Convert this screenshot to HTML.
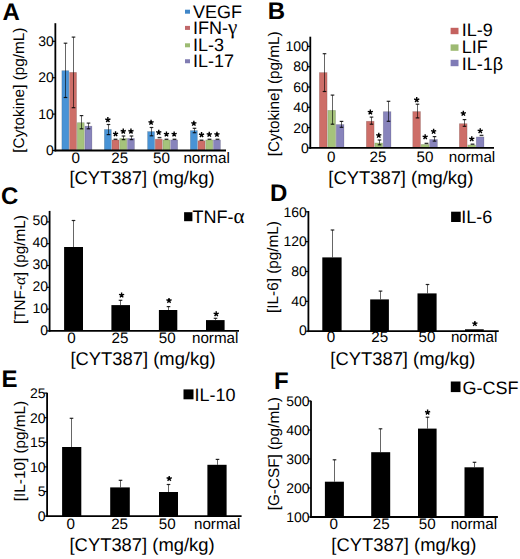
<!DOCTYPE html>
<html><head><meta charset="utf-8"><style>
html,body{margin:0;padding:0;background:#fff;width:520px;height:559px;overflow:hidden}
svg{display:block;font-family:"Liberation Sans", sans-serif;text-rendering:geometricPrecision}
</style></head><body>
<svg width="520" height="559" viewBox="0 0 520 559">
<rect width="520" height="559" fill="#fff"/>
<rect x="61.85" y="70.65" width="7.00" height="79.50" fill="#4893d6" stroke="#000" stroke-opacity="0.18" stroke-width="0.7"/>
<path d="M65.50 43.20V97.50" stroke="#000" stroke-opacity="0.6" stroke-width="1"/>
<path d="M63.70 43.20H67.30" stroke="#000" stroke-opacity="0.85" stroke-width="1.2"/>
<path d="M63.70 97.50H67.30" stroke="#000" stroke-opacity="0.85" stroke-width="1.2"/>
<rect x="69.55" y="72.35" width="7.00" height="77.80" fill="#cd6e68" stroke="#000" stroke-opacity="0.18" stroke-width="0.7"/>
<path d="M73.50 37.10V107.70" stroke="#000" stroke-opacity="0.6" stroke-width="1"/>
<path d="M71.70 37.10H75.30" stroke="#000" stroke-opacity="0.85" stroke-width="1.2"/>
<path d="M71.70 107.70H75.30" stroke="#000" stroke-opacity="0.85" stroke-width="1.2"/>
<rect x="77.25" y="122.65" width="7.00" height="27.50" fill="#a5c37b" stroke="#000" stroke-opacity="0.18" stroke-width="0.7"/>
<path d="M81.50 115.60V128.80" stroke="#000" stroke-opacity="0.6" stroke-width="1"/>
<path d="M79.70 115.60H83.30" stroke="#000" stroke-opacity="0.85" stroke-width="1.2"/>
<path d="M79.70 128.80H83.30" stroke="#000" stroke-opacity="0.85" stroke-width="1.2"/>
<rect x="84.95" y="126.15" width="7.00" height="24.00" fill="#8884bc" stroke="#000" stroke-opacity="0.18" stroke-width="0.7"/>
<path d="M88.50 123.10V128.80" stroke="#000" stroke-opacity="0.6" stroke-width="1"/>
<path d="M86.70 123.10H90.30" stroke="#000" stroke-opacity="0.85" stroke-width="1.2"/>
<path d="M86.70 128.80H90.30" stroke="#000" stroke-opacity="0.85" stroke-width="1.2"/>
<rect x="104.35" y="129.45" width="7.00" height="20.70" fill="#4893d6" stroke="#000" stroke-opacity="0.18" stroke-width="0.7"/>
<path d="M108.50 124.50V134.60" stroke="#000" stroke-opacity="0.6" stroke-width="1"/>
<path d="M106.70 124.50H110.30" stroke="#000" stroke-opacity="0.85" stroke-width="1.2"/>
<path d="M106.70 134.60H110.30" stroke="#000" stroke-opacity="0.85" stroke-width="1.2"/>
<path d="M107.85 119.80L107.85 117.10M107.85 119.80L110.42 118.97M107.85 119.80L109.44 121.98M107.85 119.80L106.26 121.98M107.85 119.80L105.28 118.97" stroke="#000" stroke-width="1.40" fill="none"/>
<rect x="112.05" y="139.95" width="7.00" height="10.20" fill="#cd6e68" stroke="#000" stroke-opacity="0.18" stroke-width="0.7"/>
<path d="M113.60 139.30H117.40" stroke="#000" stroke-opacity="0.8" stroke-width="1.4"/>
<path d="M115.55 134.00L115.55 131.30M115.55 134.00L118.12 133.17M115.55 134.00L117.14 136.18M115.55 134.00L113.96 136.18M115.55 134.00L112.98 133.17" stroke="#000" stroke-width="1.40" fill="none"/>
<rect x="119.75" y="138.45" width="7.00" height="11.70" fill="#a5c37b" stroke="#000" stroke-opacity="0.18" stroke-width="0.7"/>
<path d="M123.50 136.00V139.60" stroke="#000" stroke-opacity="0.6" stroke-width="1"/>
<path d="M121.70 136.00H125.30" stroke="#000" stroke-opacity="0.85" stroke-width="1.2"/>
<path d="M121.70 139.60H125.30" stroke="#000" stroke-opacity="0.85" stroke-width="1.2"/>
<path d="M123.25 131.30L123.25 128.60M123.25 131.30L125.82 130.47M123.25 131.30L124.84 133.48M123.25 131.30L121.66 133.48M123.25 131.30L120.68 130.47" stroke="#000" stroke-width="1.40" fill="none"/>
<rect x="127.45" y="138.45" width="7.00" height="11.70" fill="#8884bc" stroke="#000" stroke-opacity="0.18" stroke-width="0.7"/>
<path d="M131.50 136.00V139.60" stroke="#000" stroke-opacity="0.6" stroke-width="1"/>
<path d="M129.70 136.00H133.30" stroke="#000" stroke-opacity="0.85" stroke-width="1.2"/>
<path d="M129.70 139.60H133.30" stroke="#000" stroke-opacity="0.85" stroke-width="1.2"/>
<path d="M130.95 131.30L130.95 128.60M130.95 131.30L133.52 130.47M130.95 131.30L132.54 133.48M130.95 131.30L129.36 133.48M130.95 131.30L128.38 130.47" stroke="#000" stroke-width="1.40" fill="none"/>
<rect x="147.55" y="131.55" width="7.00" height="18.60" fill="#4893d6" stroke="#000" stroke-opacity="0.18" stroke-width="0.7"/>
<path d="M151.50 127.50V135.80" stroke="#000" stroke-opacity="0.6" stroke-width="1"/>
<path d="M149.70 127.50H153.30" stroke="#000" stroke-opacity="0.85" stroke-width="1.2"/>
<path d="M149.70 135.80H153.30" stroke="#000" stroke-opacity="0.85" stroke-width="1.2"/>
<path d="M151.05 122.50L151.05 119.80M151.05 122.50L153.62 121.67M151.05 122.50L152.64 124.68M151.05 122.50L149.46 124.68M151.05 122.50L148.48 121.67" stroke="#000" stroke-width="1.40" fill="none"/>
<rect x="155.25" y="139.15" width="7.00" height="11.00" fill="#cd6e68" stroke="#000" stroke-opacity="0.18" stroke-width="0.7"/>
<path d="M157.60 137.60H161.40" stroke="#000" stroke-opacity="0.8" stroke-width="1.4"/>
<path d="M158.75 132.50L158.75 129.80M158.75 132.50L161.32 131.67M158.75 132.50L160.34 134.68M158.75 132.50L157.16 134.68M158.75 132.50L156.18 131.67" stroke="#000" stroke-width="1.40" fill="none"/>
<rect x="162.95" y="139.95" width="7.00" height="10.20" fill="#a5c37b" stroke="#000" stroke-opacity="0.18" stroke-width="0.7"/>
<path d="M164.60 139.30H168.40" stroke="#000" stroke-opacity="0.8" stroke-width="1.4"/>
<path d="M166.45 134.20L166.45 131.50M166.45 134.20L169.02 133.37M166.45 134.20L168.04 136.38M166.45 134.20L164.86 136.38M166.45 134.20L163.88 133.37" stroke="#000" stroke-width="1.40" fill="none"/>
<rect x="170.65" y="139.95" width="7.00" height="10.20" fill="#8884bc" stroke="#000" stroke-opacity="0.18" stroke-width="0.7"/>
<path d="M172.60 139.30H176.40" stroke="#000" stroke-opacity="0.8" stroke-width="1.4"/>
<path d="M174.15 134.20L174.15 131.50M174.15 134.20L176.72 133.37M174.15 134.20L175.74 136.38M174.15 134.20L172.56 136.38M174.15 134.20L171.58 133.37" stroke="#000" stroke-width="1.40" fill="none"/>
<rect x="190.35" y="130.55" width="7.00" height="19.60" fill="#4893d6" stroke="#000" stroke-opacity="0.18" stroke-width="0.7"/>
<path d="M194.50 128.30V132.70" stroke="#000" stroke-opacity="0.6" stroke-width="1"/>
<path d="M192.70 128.30H196.30" stroke="#000" stroke-opacity="0.85" stroke-width="1.2"/>
<path d="M192.70 132.70H196.30" stroke="#000" stroke-opacity="0.85" stroke-width="1.2"/>
<path d="M193.85 123.50L193.85 120.80M193.85 123.50L196.42 122.67M193.85 123.50L195.44 125.68M193.85 123.50L192.26 125.68M193.85 123.50L191.28 122.67" stroke="#000" stroke-width="1.40" fill="none"/>
<rect x="198.05" y="140.75" width="7.00" height="9.40" fill="#cd6e68" stroke="#000" stroke-opacity="0.18" stroke-width="0.7"/>
<path d="M199.60 140.20H203.40" stroke="#000" stroke-opacity="0.8" stroke-width="1.4"/>
<path d="M201.55 134.80L201.55 132.10M201.55 134.80L204.12 133.97M201.55 134.80L203.14 136.98M201.55 134.80L199.96 136.98M201.55 134.80L198.98 133.97" stroke="#000" stroke-width="1.40" fill="none"/>
<rect x="205.75" y="139.95" width="7.00" height="10.20" fill="#a5c37b" stroke="#000" stroke-opacity="0.18" stroke-width="0.7"/>
<path d="M207.60 139.30H211.40" stroke="#000" stroke-opacity="0.8" stroke-width="1.4"/>
<path d="M209.25 134.50L209.25 131.80M209.25 134.50L211.82 133.67M209.25 134.50L210.84 136.68M209.25 134.50L207.66 136.68M209.25 134.50L206.68 133.67" stroke="#000" stroke-width="1.40" fill="none"/>
<rect x="213.45" y="139.95" width="7.00" height="10.20" fill="#8884bc" stroke="#000" stroke-opacity="0.18" stroke-width="0.7"/>
<path d="M215.60 139.30H219.40" stroke="#000" stroke-opacity="0.8" stroke-width="1.4"/>
<path d="M216.95 134.50L216.95 131.80M216.95 134.50L219.52 133.67M216.95 134.50L218.54 136.68M216.95 134.50L215.36 136.68M216.95 134.50L214.38 133.67" stroke="#000" stroke-width="1.40" fill="none"/>
<path d="M52.35 150.50H55.35" stroke="#000" stroke-width="1.2"/>
<text x="53.85" y="155.30" font-size="14" text-anchor="end" font-weight="normal">0</text>
<path d="M52.35 114.10H55.35" stroke="#000" stroke-width="1.2"/>
<text x="53.85" y="118.80" font-size="14" text-anchor="end" font-weight="normal">10</text>
<path d="M52.35 77.70H55.35" stroke="#000" stroke-width="1.2"/>
<text x="53.85" y="82.30" font-size="14" text-anchor="end" font-weight="normal">20</text>
<path d="M52.35 41.30H55.35" stroke="#000" stroke-width="1.2"/>
<text x="53.85" y="45.80" font-size="14" text-anchor="end" font-weight="normal">30</text>
<path d="M55.35 23.20V151.40" stroke="#000" stroke-width="1.8"/>
<path d="M54.45 150.50H226.00" stroke="#000" stroke-width="1.8"/>
<text x="75.65" y="162.50" font-size="15.2" text-anchor="middle" font-weight="normal">0</text>
<text x="119.75" y="162.50" font-size="15.2" text-anchor="middle" font-weight="normal">25</text>
<text x="161.40" y="162.50" font-size="15.2" text-anchor="middle" font-weight="normal">50</text>
<text x="206.60" y="162.50" font-size="15.2" text-anchor="middle" font-weight="normal">normal</text>
<text x="69.40" y="184.10" font-size="18.4" text-anchor="start" font-weight="normal">[CYT387] (mg/kg)</text>
<text x="0" y="0" font-size="15.3" text-anchor="middle" transform="translate(24.30 90.15) rotate(-90)">[Cytokine] (pg/mL)</text>
<text x="2.60" y="19.50" font-size="24" text-anchor="start" font-weight="bold">A</text>
<rect x="319.35" y="72.55" width="7.75" height="75.00" fill="#cd6e68" stroke="#000" stroke-opacity="0.18" stroke-width="0.7"/>
<path d="M324.50 53.70V91.50" stroke="#000" stroke-opacity="0.6" stroke-width="1"/>
<path d="M322.70 53.70H326.30" stroke="#000" stroke-opacity="0.85" stroke-width="1.2"/>
<path d="M322.70 91.50H326.30" stroke="#000" stroke-opacity="0.85" stroke-width="1.2"/>
<rect x="327.80" y="110.35" width="7.75" height="37.20" fill="#a5c37b" stroke="#000" stroke-opacity="0.18" stroke-width="0.7"/>
<path d="M332.50 95.10V124.20" stroke="#000" stroke-opacity="0.6" stroke-width="1"/>
<path d="M330.70 95.10H334.30" stroke="#000" stroke-opacity="0.85" stroke-width="1.2"/>
<path d="M330.70 124.20H334.30" stroke="#000" stroke-opacity="0.85" stroke-width="1.2"/>
<rect x="336.25" y="124.55" width="7.75" height="23.00" fill="#8884bc" stroke="#000" stroke-opacity="0.18" stroke-width="0.7"/>
<path d="M341.50 121.40V127.30" stroke="#000" stroke-opacity="0.6" stroke-width="1"/>
<path d="M339.70 121.40H343.30" stroke="#000" stroke-opacity="0.85" stroke-width="1.2"/>
<path d="M339.70 127.30H343.30" stroke="#000" stroke-opacity="0.85" stroke-width="1.2"/>
<rect x="366.35" y="121.25" width="7.75" height="26.30" fill="#cd6e68" stroke="#000" stroke-opacity="0.18" stroke-width="0.7"/>
<path d="M371.50 117.10V124.20" stroke="#000" stroke-opacity="0.6" stroke-width="1"/>
<path d="M369.70 117.10H373.30" stroke="#000" stroke-opacity="0.85" stroke-width="1.2"/>
<path d="M369.70 124.20H373.30" stroke="#000" stroke-opacity="0.85" stroke-width="1.2"/>
<path d="M370.33 112.20L370.33 109.50M370.33 112.20L372.89 111.37M370.33 112.20L371.91 114.38M370.33 112.20L368.74 114.38M370.33 112.20L367.76 111.37" stroke="#000" stroke-width="1.40" fill="none"/>
<rect x="374.80" y="142.95" width="7.75" height="4.60" fill="#a5c37b" stroke="#000" stroke-opacity="0.18" stroke-width="0.7"/>
<path d="M379.50 140.00V144.80" stroke="#000" stroke-opacity="0.6" stroke-width="1"/>
<path d="M377.70 140.00H381.30" stroke="#000" stroke-opacity="0.85" stroke-width="1.2"/>
<path d="M377.70 144.80H381.30" stroke="#000" stroke-opacity="0.85" stroke-width="1.2"/>
<path d="M378.77 135.40L378.77 132.70M378.77 135.40L381.34 134.57M378.77 135.40L380.36 137.58M378.77 135.40L377.19 137.58M378.77 135.40L376.21 134.57" stroke="#000" stroke-width="1.40" fill="none"/>
<rect x="383.25" y="111.65" width="7.75" height="35.90" fill="#8884bc" stroke="#000" stroke-opacity="0.18" stroke-width="0.7"/>
<path d="M388.50 101.30V121.30" stroke="#000" stroke-opacity="0.6" stroke-width="1"/>
<path d="M386.70 101.30H390.30" stroke="#000" stroke-opacity="0.85" stroke-width="1.2"/>
<path d="M386.70 121.30H390.30" stroke="#000" stroke-opacity="0.85" stroke-width="1.2"/>
<rect x="412.75" y="111.55" width="7.75" height="36.00" fill="#cd6e68" stroke="#000" stroke-opacity="0.18" stroke-width="0.7"/>
<path d="M417.50 104.20V117.90" stroke="#000" stroke-opacity="0.6" stroke-width="1"/>
<path d="M415.70 104.20H419.30" stroke="#000" stroke-opacity="0.85" stroke-width="1.2"/>
<path d="M415.70 117.90H419.30" stroke="#000" stroke-opacity="0.85" stroke-width="1.2"/>
<path d="M416.73 99.80L416.73 97.10M416.73 99.80L419.29 98.97M416.73 99.80L418.31 101.98M416.73 99.80L415.14 101.98M416.73 99.80L414.16 98.97" stroke="#000" stroke-width="1.40" fill="none"/>
<rect x="421.20" y="144.45" width="7.75" height="3.10" fill="#a5c37b" stroke="#000" stroke-opacity="0.18" stroke-width="0.7"/>
<path d="M424.60 143.40H428.40" stroke="#000" stroke-opacity="0.8" stroke-width="1.4"/>
<path d="M425.17 136.90L425.17 134.20M425.17 136.90L427.74 136.07M425.17 136.90L426.76 139.08M425.17 136.90L423.59 139.08M425.17 136.90L422.61 136.07" stroke="#000" stroke-width="1.40" fill="none"/>
<rect x="429.65" y="139.45" width="7.75" height="8.10" fill="#8884bc" stroke="#000" stroke-opacity="0.18" stroke-width="0.7"/>
<path d="M434.50 136.60V141.10" stroke="#000" stroke-opacity="0.6" stroke-width="1"/>
<path d="M432.70 136.60H436.30" stroke="#000" stroke-opacity="0.85" stroke-width="1.2"/>
<path d="M432.70 141.10H436.30" stroke="#000" stroke-opacity="0.85" stroke-width="1.2"/>
<path d="M433.62 131.40L433.62 128.70M433.62 131.40L436.19 130.57M433.62 131.40L435.21 133.58M433.62 131.40L432.04 133.58M433.62 131.40L431.06 130.57" stroke="#000" stroke-width="1.40" fill="none"/>
<rect x="459.35" y="123.65" width="7.75" height="23.90" fill="#cd6e68" stroke="#000" stroke-opacity="0.18" stroke-width="0.7"/>
<path d="M464.50 119.60V126.30" stroke="#000" stroke-opacity="0.6" stroke-width="1"/>
<path d="M462.70 119.60H466.30" stroke="#000" stroke-opacity="0.85" stroke-width="1.2"/>
<path d="M462.70 126.30H466.30" stroke="#000" stroke-opacity="0.85" stroke-width="1.2"/>
<path d="M463.33 113.50L463.33 110.80M463.33 113.50L465.89 112.67M463.33 113.50L464.91 115.68M463.33 113.50L461.74 115.68M463.33 113.50L460.76 112.67" stroke="#000" stroke-width="1.40" fill="none"/>
<rect x="467.80" y="144.95" width="7.75" height="2.60" fill="#a5c37b" stroke="#000" stroke-opacity="0.18" stroke-width="0.7"/>
<path d="M470.60 144.20H474.40" stroke="#000" stroke-opacity="0.8" stroke-width="1.4"/>
<path d="M471.77 138.90L471.77 136.20M471.77 138.90L474.34 138.07M471.77 138.90L473.36 141.08M471.77 138.90L470.19 141.08M471.77 138.90L469.21 138.07" stroke="#000" stroke-width="1.40" fill="none"/>
<rect x="476.25" y="136.95" width="7.75" height="10.60" fill="#8884bc" stroke="#000" stroke-opacity="0.18" stroke-width="0.7"/>
<path d="M479.60 135.40H483.40" stroke="#000" stroke-opacity="0.8" stroke-width="1.4"/>
<path d="M480.23 130.90L480.23 128.20M480.23 130.90L482.79 130.07M480.23 130.90L481.81 133.08M480.23 130.90L478.64 133.08M480.23 130.90L477.66 130.07" stroke="#000" stroke-width="1.40" fill="none"/>
<path d="M307.30 147.90H310.30" stroke="#000" stroke-width="1.2"/>
<text x="308.80" y="152.90" font-size="14" text-anchor="end" font-weight="normal">0</text>
<path d="M307.30 127.60H310.30" stroke="#000" stroke-width="1.2"/>
<text x="308.80" y="132.51" font-size="14" text-anchor="end" font-weight="normal">20</text>
<path d="M307.30 107.30H310.30" stroke="#000" stroke-width="1.2"/>
<text x="308.80" y="112.12" font-size="14" text-anchor="end" font-weight="normal">40</text>
<path d="M307.30 87.00H310.30" stroke="#000" stroke-width="1.2"/>
<text x="308.80" y="91.73" font-size="14" text-anchor="end" font-weight="normal">60</text>
<path d="M307.30 66.70H310.30" stroke="#000" stroke-width="1.2"/>
<text x="308.80" y="71.34" font-size="14" text-anchor="end" font-weight="normal">80</text>
<path d="M307.30 46.40H310.30" stroke="#000" stroke-width="1.2"/>
<text x="308.80" y="50.95" font-size="14" text-anchor="end" font-weight="normal">100</text>
<path d="M310.30 36.70V148.80" stroke="#000" stroke-width="1.8"/>
<path d="M309.40 147.90H494.00" stroke="#000" stroke-width="1.8"/>
<text x="331.25" y="161.60" font-size="15.2" text-anchor="middle" font-weight="normal">0</text>
<text x="378.00" y="161.60" font-size="15.2" text-anchor="middle" font-weight="normal">25</text>
<text x="425.00" y="161.60" font-size="15.2" text-anchor="middle" font-weight="normal">50</text>
<text x="472.00" y="161.60" font-size="15.2" text-anchor="middle" font-weight="normal">normal</text>
<text x="328.30" y="184.10" font-size="18.4" text-anchor="start" font-weight="normal">[CYT387] (mg/kg)</text>
<text x="0" y="0" font-size="15.3" text-anchor="middle" transform="translate(278.90 93.80) rotate(-90)">[Cytokine] (pg/mL)</text>
<text x="267.80" y="18.60" font-size="24" text-anchor="start" font-weight="bold">B</text>
<rect x="64.10" y="247.00" width="18.90" height="83.90" fill="#000"/>
<path d="M73.50 220.50V247.00" stroke="#000" stroke-opacity="0.6" stroke-width="1"/>
<path d="M71.70 220.50H75.30" stroke="#000" stroke-opacity="0.85" stroke-width="1.2"/>
<rect x="111.40" y="305.10" width="18.60" height="25.80" fill="#000"/>
<path d="M120.50 300.30V305.10" stroke="#000" stroke-opacity="0.6" stroke-width="1"/>
<path d="M118.70 300.30H122.30" stroke="#000" stroke-opacity="0.85" stroke-width="1.2"/>
<path d="M121.60 295.20L121.60 292.50M121.60 295.20L124.17 294.37M121.60 295.20L123.19 297.38M121.60 295.20L120.01 297.38M121.60 295.20L119.03 294.37" stroke="#000" stroke-width="1.40" fill="none"/>
<rect x="158.90" y="310.00" width="18.40" height="20.90" fill="#000"/>
<path d="M168.50 306.60V310.00" stroke="#000" stroke-opacity="0.6" stroke-width="1"/>
<path d="M166.70 306.60H170.30" stroke="#000" stroke-opacity="0.85" stroke-width="1.2"/>
<path d="M169.00 300.60L169.00 297.90M169.00 300.60L171.57 299.77M169.00 300.60L170.59 302.78M169.00 300.60L167.41 302.78M169.00 300.60L166.43 299.77" stroke="#000" stroke-width="1.40" fill="none"/>
<rect x="206.00" y="320.10" width="18.60" height="10.80" fill="#000"/>
<path d="M215.50 318.30V320.10" stroke="#000" stroke-opacity="0.6" stroke-width="1"/>
<path d="M213.70 318.30H217.30" stroke="#000" stroke-opacity="0.85" stroke-width="1.2"/>
<path d="M216.20 314.00L216.20 311.30M216.20 314.00L218.77 313.17M216.20 314.00L217.79 316.18M216.20 314.00L214.61 316.18M216.20 314.00L213.63 313.17" stroke="#000" stroke-width="1.40" fill="none"/>
<path d="M46.60 330.90H49.60" stroke="#000" stroke-width="1.2"/>
<text x="48.10" y="335.00" font-size="14" text-anchor="end" font-weight="normal">0</text>
<path d="M46.60 309.10H49.60" stroke="#000" stroke-width="1.2"/>
<text x="48.10" y="312.98" font-size="14" text-anchor="end" font-weight="normal">10</text>
<path d="M46.60 287.30H49.60" stroke="#000" stroke-width="1.2"/>
<text x="48.10" y="290.96" font-size="14" text-anchor="end" font-weight="normal">20</text>
<path d="M46.60 265.50H49.60" stroke="#000" stroke-width="1.2"/>
<text x="48.10" y="268.94" font-size="14" text-anchor="end" font-weight="normal">30</text>
<path d="M46.60 243.70H49.60" stroke="#000" stroke-width="1.2"/>
<text x="48.10" y="246.92" font-size="14" text-anchor="end" font-weight="normal">40</text>
<path d="M46.60 221.90H49.60" stroke="#000" stroke-width="1.2"/>
<text x="48.10" y="224.90" font-size="14" text-anchor="end" font-weight="normal">50</text>
<path d="M49.60 210.90V331.80" stroke="#000" stroke-width="1.8"/>
<path d="M48.70 330.90H239.00" stroke="#000" stroke-width="1.8"/>
<text x="71.50" y="342.60" font-size="15.2" text-anchor="middle" font-weight="normal">0</text>
<text x="120.00" y="342.60" font-size="15.2" text-anchor="middle" font-weight="normal">25</text>
<text x="167.25" y="342.60" font-size="15.2" text-anchor="middle" font-weight="normal">50</text>
<text x="215.20" y="342.60" font-size="15.2" text-anchor="middle" font-weight="normal">normal</text>
<text x="70.40" y="364.90" font-size="18.4" text-anchor="start" font-weight="normal">[CYT387] (mg/kg)</text>
<text x="0" y="0" font-size="15.3" text-anchor="middle" transform="translate(24.50 269.60) rotate(-90)">[TNF-<tspan font-family="Liberation Serif" font-style="italic" font-size="16.5">α</tspan>] (pg/mL)</text>
<text x="1.00" y="204.20" font-size="24" text-anchor="start" font-weight="bold">C</text>
<rect x="322.30" y="257.40" width="19.30" height="73.80" fill="#000"/>
<path d="M332.50 230.00V257.40" stroke="#000" stroke-opacity="0.6" stroke-width="1"/>
<path d="M330.70 230.00H334.30" stroke="#000" stroke-opacity="0.85" stroke-width="1.2"/>
<rect x="370.20" y="299.40" width="18.70" height="31.80" fill="#000"/>
<path d="M380.50 291.10V299.40" stroke="#000" stroke-opacity="0.6" stroke-width="1"/>
<path d="M378.70 291.10H382.30" stroke="#000" stroke-opacity="0.85" stroke-width="1.2"/>
<rect x="417.50" y="293.40" width="19.10" height="37.80" fill="#000"/>
<path d="M427.50 284.50V293.40" stroke="#000" stroke-opacity="0.6" stroke-width="1"/>
<path d="M425.70 284.50H429.30" stroke="#000" stroke-opacity="0.85" stroke-width="1.2"/>
<rect x="465.00" y="329.30" width="18.75" height="1.90" fill="#000"/>
<path d="M474.88 323.70L474.88 321.00M474.88 323.70L477.44 322.87M474.88 323.70L476.46 325.88M474.88 323.70L473.29 325.88M474.88 323.70L472.31 322.87" stroke="#000" stroke-width="1.40" fill="none"/>
<path d="M305.40 331.20H308.40" stroke="#000" stroke-width="1.2"/>
<text x="306.90" y="335.30" font-size="14" text-anchor="end" font-weight="normal">0</text>
<path d="M305.40 301.35H308.40" stroke="#000" stroke-width="1.2"/>
<text x="306.90" y="305.62" font-size="14" text-anchor="end" font-weight="normal">40</text>
<path d="M305.40 271.50H308.40" stroke="#000" stroke-width="1.2"/>
<text x="306.90" y="275.95" font-size="14" text-anchor="end" font-weight="normal">80</text>
<path d="M305.40 241.65H308.40" stroke="#000" stroke-width="1.2"/>
<text x="306.90" y="246.28" font-size="14" text-anchor="end" font-weight="normal">120</text>
<path d="M305.40 211.80H308.40" stroke="#000" stroke-width="1.2"/>
<text x="306.90" y="216.60" font-size="14" text-anchor="end" font-weight="normal">160</text>
<path d="M308.40 211.00V332.10" stroke="#000" stroke-width="1.8"/>
<path d="M307.50 331.20H498.75" stroke="#000" stroke-width="1.8"/>
<text x="331.00" y="342.40" font-size="15.2" text-anchor="middle" font-weight="normal">0</text>
<text x="379.75" y="342.40" font-size="15.2" text-anchor="middle" font-weight="normal">25</text>
<text x="427.00" y="342.40" font-size="15.2" text-anchor="middle" font-weight="normal">50</text>
<text x="474.10" y="342.40" font-size="15.2" text-anchor="middle" font-weight="normal">normal</text>
<text x="330.30" y="364.60" font-size="18.4" text-anchor="start" font-weight="normal">[CYT387] (mg/kg)</text>
<text x="0" y="0" font-size="15.3" text-anchor="middle" transform="translate(278.40 267.05) rotate(-90)">[IL-6] (pg/mL)</text>
<text x="270.00" y="201.40" font-size="24" text-anchor="start" font-weight="bold">D</text>
<rect x="62.10" y="447.00" width="19.20" height="69.10" fill="#000"/>
<path d="M71.50 418.30V447.00" stroke="#000" stroke-opacity="0.6" stroke-width="1"/>
<path d="M69.70 418.30H73.30" stroke="#000" stroke-opacity="0.85" stroke-width="1.2"/>
<rect x="110.20" y="487.40" width="19.60" height="28.70" fill="#000"/>
<path d="M120.50 480.30V487.40" stroke="#000" stroke-opacity="0.6" stroke-width="1"/>
<path d="M118.70 480.30H122.30" stroke="#000" stroke-opacity="0.85" stroke-width="1.2"/>
<rect x="159.00" y="492.00" width="19.00" height="24.10" fill="#000"/>
<path d="M168.50 484.50V492.00" stroke="#000" stroke-opacity="0.6" stroke-width="1"/>
<path d="M166.70 484.50H170.30" stroke="#000" stroke-opacity="0.85" stroke-width="1.2"/>
<path d="M169.20 478.60L169.20 475.90M169.20 478.60L171.77 477.77M169.20 478.60L170.79 480.78M169.20 478.60L167.61 480.78M169.20 478.60L166.63 477.77" stroke="#000" stroke-width="1.40" fill="none"/>
<rect x="207.40" y="464.80" width="19.20" height="51.30" fill="#000"/>
<path d="M217.50 459.40V464.80" stroke="#000" stroke-opacity="0.6" stroke-width="1"/>
<path d="M215.70 459.40H219.30" stroke="#000" stroke-opacity="0.85" stroke-width="1.2"/>
<path d="M44.10 516.10H47.10" stroke="#000" stroke-width="1.2"/>
<text x="45.60" y="521.00" font-size="14" text-anchor="end" font-weight="normal">0</text>
<path d="M44.10 491.50H47.10" stroke="#000" stroke-width="1.2"/>
<text x="45.60" y="496.48" font-size="14" text-anchor="end" font-weight="normal">5</text>
<path d="M44.10 466.90H47.10" stroke="#000" stroke-width="1.2"/>
<text x="45.60" y="471.96" font-size="14" text-anchor="end" font-weight="normal">10</text>
<path d="M44.10 442.30H47.10" stroke="#000" stroke-width="1.2"/>
<text x="45.60" y="447.44" font-size="14" text-anchor="end" font-weight="normal">15</text>
<path d="M44.10 417.70H47.10" stroke="#000" stroke-width="1.2"/>
<text x="45.60" y="422.92" font-size="14" text-anchor="end" font-weight="normal">20</text>
<path d="M44.10 393.10H47.10" stroke="#000" stroke-width="1.2"/>
<text x="45.60" y="398.40" font-size="14" text-anchor="end" font-weight="normal">25</text>
<path d="M47.10 392.70V517.00" stroke="#000" stroke-width="1.8"/>
<path d="M46.20 516.10H241.60" stroke="#000" stroke-width="1.8"/>
<text x="70.75" y="528.80" font-size="15.2" text-anchor="middle" font-weight="normal">0</text>
<text x="119.60" y="528.80" font-size="15.2" text-anchor="middle" font-weight="normal">25</text>
<text x="167.25" y="528.80" font-size="15.2" text-anchor="middle" font-weight="normal">50</text>
<text x="217.20" y="528.80" font-size="15.2" text-anchor="middle" font-weight="normal">normal</text>
<text x="69.50" y="550.60" font-size="18.4" text-anchor="start" font-weight="normal">[CYT387] (mg/kg)</text>
<text x="0" y="0" font-size="15.3" text-anchor="middle" transform="translate(24.50 451.00) rotate(-90)">[IL-10] (pg/mL)</text>
<text x="1.50" y="386.50" font-size="24" text-anchor="start" font-weight="bold">E</text>
<rect x="324.90" y="481.70" width="19.00" height="35.30" fill="#000"/>
<path d="M334.50 459.80V481.70" stroke="#000" stroke-opacity="0.6" stroke-width="1"/>
<path d="M332.70 459.80H336.30" stroke="#000" stroke-opacity="0.85" stroke-width="1.2"/>
<rect x="371.20" y="452.20" width="19.00" height="64.80" fill="#000"/>
<path d="M380.50 428.80V452.20" stroke="#000" stroke-opacity="0.6" stroke-width="1"/>
<path d="M378.70 428.80H382.30" stroke="#000" stroke-opacity="0.85" stroke-width="1.2"/>
<rect x="418.00" y="428.60" width="18.60" height="88.40" fill="#000"/>
<path d="M427.50 417.20V428.60" stroke="#000" stroke-opacity="0.6" stroke-width="1"/>
<path d="M425.70 417.20H429.30" stroke="#000" stroke-opacity="0.85" stroke-width="1.2"/>
<path d="M427.60 412.30L427.60 409.60M427.60 412.30L430.17 411.47M427.60 412.30L429.19 414.48M427.60 412.30L426.01 414.48M427.60 412.30L425.03 411.47" stroke="#000" stroke-width="1.40" fill="none"/>
<rect x="464.50" y="467.30" width="19.20" height="49.70" fill="#000"/>
<path d="M474.50 462.30V467.30" stroke="#000" stroke-opacity="0.6" stroke-width="1"/>
<path d="M472.70 462.30H476.30" stroke="#000" stroke-opacity="0.85" stroke-width="1.2"/>
<path d="M308.00 517.00H311.00" stroke="#000" stroke-width="1.2"/>
<text x="309.50" y="522.00" font-size="14" text-anchor="end" font-weight="normal">100</text>
<path d="M308.00 488.00H311.00" stroke="#000" stroke-width="1.2"/>
<text x="309.50" y="493.00" font-size="14" text-anchor="end" font-weight="normal">200</text>
<path d="M308.00 459.00H311.00" stroke="#000" stroke-width="1.2"/>
<text x="309.50" y="464.00" font-size="14" text-anchor="end" font-weight="normal">300</text>
<path d="M308.00 430.00H311.00" stroke="#000" stroke-width="1.2"/>
<text x="309.50" y="435.00" font-size="14" text-anchor="end" font-weight="normal">400</text>
<path d="M308.00 401.00H311.00" stroke="#000" stroke-width="1.2"/>
<text x="309.50" y="406.00" font-size="14" text-anchor="end" font-weight="normal">500</text>
<path d="M311.00 400.80V517.90" stroke="#000" stroke-width="1.8"/>
<path d="M310.10 517.00H497.90" stroke="#000" stroke-width="1.8"/>
<text x="333.75" y="528.80" font-size="15.2" text-anchor="middle" font-weight="normal">0</text>
<text x="381.30" y="528.80" font-size="15.2" text-anchor="middle" font-weight="normal">25</text>
<text x="427.20" y="528.80" font-size="15.2" text-anchor="middle" font-weight="normal">50</text>
<text x="473.90" y="528.80" font-size="15.2" text-anchor="middle" font-weight="normal">normal</text>
<text x="331.30" y="551.00" font-size="18.4" text-anchor="start" font-weight="normal">[CYT387] (mg/kg)</text>
<text x="0" y="0" font-size="15.3" text-anchor="middle" transform="translate(278.90 453.80) rotate(-90)">[G-CSF] (pg/mL)</text>
<text x="274.00" y="389.20" font-size="24" text-anchor="start" font-weight="bold">F</text>
<rect x="185.00" y="9.70" width="5.00" height="4.00" fill="#3f86c8"/>
<text x="193.00" y="17.50" font-size="18" text-anchor="start" font-weight="normal">VEGF</text>
<rect x="185.00" y="25.90" width="5.00" height="4.00" fill="#c0686a"/>
<text x="193.00" y="33.70" font-size="18" text-anchor="start" font-weight="normal">IFN-<tspan font-family="Liberation Serif" font-size="21">γ</tspan></text>
<rect x="185.00" y="43.30" width="5.00" height="4.00" fill="#9cbb72"/>
<text x="193.00" y="50.60" font-size="18" text-anchor="start" font-weight="normal">IL-3</text>
<rect x="185.00" y="59.25" width="5.00" height="4.00" fill="#807cb2"/>
<text x="193.00" y="66.50" font-size="18" text-anchor="start" font-weight="normal">IL-17</text>
<rect x="450.60" y="27.80" width="7.90" height="6.40" fill="#c4625f"/>
<text x="461.80" y="35.80" font-size="18" text-anchor="start" font-weight="normal">IL-9</text>
<rect x="450.60" y="44.40" width="7.90" height="6.40" fill="#9dba72"/>
<text x="461.80" y="52.70" font-size="18" text-anchor="start" font-weight="normal">LIF</text>
<rect x="450.60" y="59.80" width="7.90" height="6.40" fill="#7f7bb6"/>
<text x="461.80" y="70.00" font-size="18" text-anchor="start" font-weight="normal">IL-1β</text>
<rect x="184.10" y="212.20" width="8.30" height="9.00" fill="#000"/>
<text x="192.50" y="222.90" font-size="18" text-anchor="start" font-weight="normal">TNF-<tspan font-family="Liberation Serif" font-size="21">α</tspan></text>
<rect x="451.10" y="211.70" width="9.60" height="10.30" fill="#000"/>
<text x="461.20" y="222.50" font-size="18" text-anchor="start" font-weight="normal">IL-6</text>
<rect x="183.50" y="389.40" width="10.00" height="9.90" fill="#000"/>
<text x="194.60" y="401.30" font-size="18" text-anchor="start" font-weight="normal">IL-10</text>
<rect x="450.80" y="381.50" width="9.70" height="10.60" fill="#000"/>
<text x="462.60" y="393.60" font-size="18" text-anchor="start" font-weight="normal">G-CSF</text>
</svg>
</body></html>
